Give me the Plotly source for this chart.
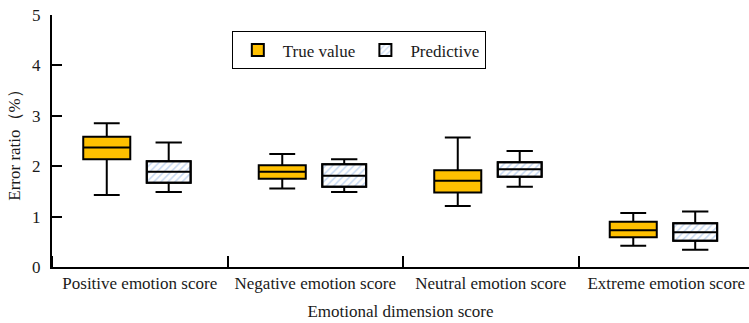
import plotly.graph_objects as go

categories = ["Positive emotion score", "Negative emotion score",
              "Neutral emotion score", "Extreme emotion score"]

# True value stats
true_low = [1.43, 1.56, 1.21, 0.42]
true_q1 = [2.14, 1.75, 1.48, 0.59]
true_med = [2.37, 1.89, 1.71, 0.73]
true_q3 = [2.585, 2.02, 1.92, 0.90]
true_high = [2.85, 2.24, 2.57, 1.07]

# Predictive stats
pred_low = [1.49, 1.49, 1.59, 0.34]
pred_q1 = [1.67, 1.59, 1.79, 0.52]
pred_med = [1.89, 1.81, 1.94, 0.69]
pred_q3 = [2.10, 2.04, 2.08, 0.87]
pred_high = [2.47, 2.14, 2.30, 1.10]

yticks = [0, 1, 2, 3, 4, 5]

FONT = "Liberation Serif, Times New Roman, serif"
idx = list(range(len(categories)))
true_off, pred_off = -0.188, 0.165
true_w, pred_w = 0.268, 0.25

fig = go.Figure()

# hatched fill for predictive boxes
fig.add_trace(go.Bar(
    x=[i + pred_off for i in idx],
    y=[h - l for h, l in zip(pred_q3, pred_q1)],
    base=pred_q1,
    width=pred_w,
    name="Predictive",
    marker=dict(color="white",
                line=dict(color="black", width=2),
                pattern=dict(shape="/", fgcolor="#8eb1e3", bgcolor="white",
                             size=5, solidity=0.3)),
    hoverinfo="skip",
    showlegend=True,
    legendrank=2,
))

fig.add_trace(go.Box(
    x=[i + true_off for i in idx],
    lowerfence=true_low, q1=true_q1, median=true_med, q3=true_q3,
    upperfence=true_high,
    width=true_w, whiskerwidth=0.55,
    fillcolor="#FFC000",
    line=dict(color="black", width=2),
    name="True value",
    legendrank=1,
))

fig.add_trace(go.Box(
    x=[i + pred_off for i in idx],
    lowerfence=pred_low, q1=pred_q1, median=pred_med, q3=pred_q3,
    upperfence=pred_high,
    width=pred_w, whiskerwidth=0.6,
    fillcolor="rgba(0,0,0,0)",
    line=dict(color="black", width=2),
    name="Predictive box",
    showlegend=False,
))

fig.update_layout(
    width=749, height=323,
    margin=dict(l=52, r=0, t=15, b=56),
    paper_bgcolor="white", plot_bgcolor="white",
    font=dict(family=FONT, size=17, color="#1a1a1a"),
    barmode="overlay", boxmode="overlay",
    legend=dict(x=0.258, y=0.935, xanchor="left", yanchor="top",
                orientation="h", bordercolor="black", borderwidth=1,
                bgcolor="white", font=dict(family=FONT, size=17),
                itemwidth=40, traceorder="normal"),
    xaxis=dict(
        range=[-0.5, -0.5 + 697 / 175.5],
        tickvals=idx, ticktext=categories, ticks="", ticklen=0,
        showline=True, linecolor="black", linewidth=2,
        showgrid=False, zeroline=False,
        tickfont=dict(family=FONT, size=17),
        minor=dict(tick0=0.5, dtick=1, ticks="inside", ticklen=11,
                   tickcolor="black", tickwidth=1.5, showgrid=False),
        title=dict(text="Emotional dimension score", standoff=13,
                   font=dict(family=FONT, size=17)),
    ),
    yaxis=dict(
        range=[0, 5], tickvals=yticks,
        ticks="inside", ticklen=10, tickwidth=2, tickcolor="black",
        showline=True, linecolor="black", linewidth=2,
        showgrid=False, zeroline=False,
        ticklabelstandoff=6, tickfont=dict(family=FONT, size=17),
        title=dict(text="Error ratio（%）", standoff=7,
                   font=dict(family=FONT, size=17)),
    ),
)

fig.write_html("out.html", config={"displayModeBar": False},
               post_script="document.body.style.margin='0';")
